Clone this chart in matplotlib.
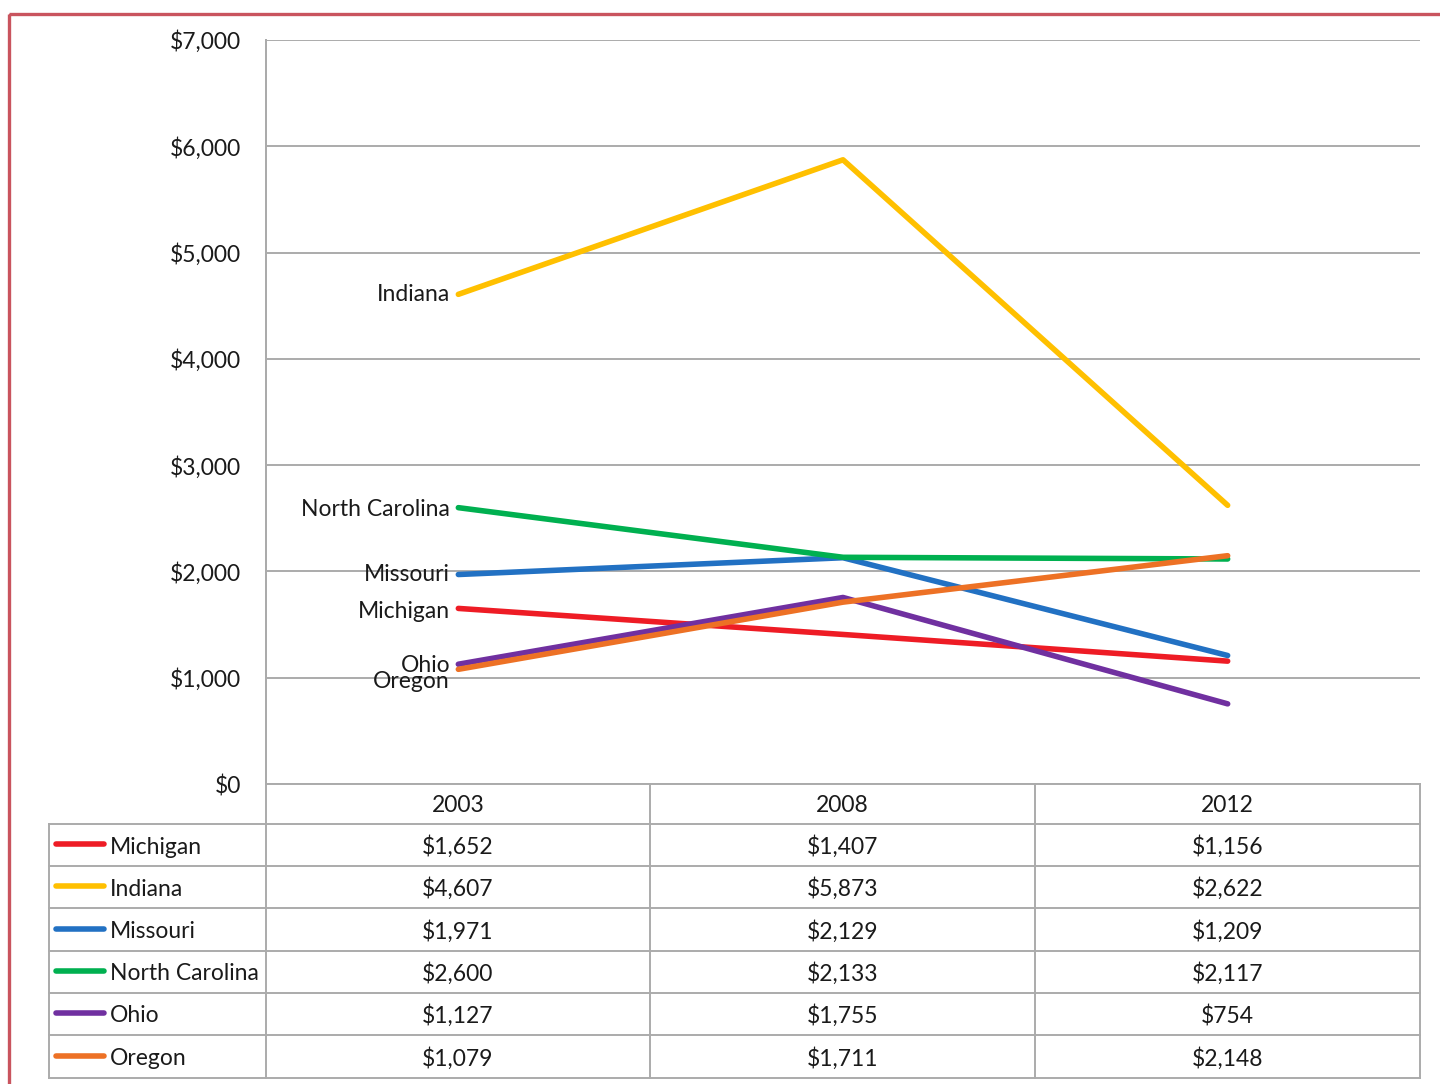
import matplotlib
matplotlib.use("Agg")
import matplotlib.pyplot as plt
from matplotlib.patches import Rectangle

# Spending per state, three survey years
years = ["2003", "2008", "2012"]
states = ["Michigan", "Indiana", "Missouri", "North Carolina", "Ohio", "Oregon"]
michigan = [1652, 1407, 1156]
indiana = [4607, 5873, 2622]
missouri = [1971, 2129, 1209]
north_carolina = [2600, 2133, 2117]
ohio = [1127, 1755, 754]
oregon = [1079, 1711, 2148]
series = [michigan, indiana, missouri, north_carolina, ohio, oregon]

colors = ["#ee1c25", "#ffc000", "#2271c3", "#00b050", "#7030a0", "#ed7125"]
# vertical nudge (pixels) for the inline labels at the first point
label_nudge = [3, 0, 0, 2, 1, 12]

W, H = 1440, 1084
plt.rcParams["font.family"] = ["Lato", "DejaVu Sans"]
FS = 16.5
LW = 4.0
GRID = "#ababab"
INK = "#1a1a1a"

fig = plt.figure(figsize=(W / 100, H / 100), dpi=100)

# pixel-space layer for the frame and the data table
tab = fig.add_axes([0, 0, 1, 1])
tab.set_xlim(0, W)
tab.set_ylim(H, 0)
tab.axis("off")

left, right, top, base = 266, 1420, 40, 784
ax = fig.add_axes([left / W, 1 - base / H, (right - left) / W, (base - top) / H])
ax.set_xlim(0, len(years))
ax.set_ylim(0, 7000)
ax.set_yticks(range(0, 7001, 1000))
ax.set_yticklabels([f"${v:,}" for v in range(0, 7001, 1000)], fontsize=FS, color=INK)
ax.tick_params(axis="y", length=0, pad=18)
ax.set_xticks([])
for s in ["top", "right", "bottom"]:
    ax.spines[s].set_visible(False)
ax.spines["left"].set_color(GRID)
ax.spines["left"].set_linewidth(1.4)
ax.grid(axis="y", color=GRID, linewidth=1.4)
ax.set_axisbelow(True)
ax.patch.set_alpha(0)

xs = [i + 0.5 for i in range(len(years))]
for name, vals, c, nudge in zip(states, series, colors, label_nudge):
    ax.plot(xs, vals, color=c, linewidth=LW, solid_capstyle="round", zorder=3)
    ax.annotate(name, (xs[0], vals[0]), xytext=(-6, -nudge * 0.72),
                textcoords="offset points", ha="right", va="center",
                fontsize=FS, color=INK, zorder=4)

# data table under the plot
col_edges = [left, 650, 1035, right]
row_edges = [base, 824, 866, 908, 951, 993, 1035, 1078]
table_left = 49
lk = dict(color=GRID, linewidth=1.4)

tab.plot([left, right], [row_edges[0]] * 2, **lk)
for y in row_edges[1:]:
    tab.plot([table_left, right], [y, y], **lk)
tab.plot([table_left] * 2, [row_edges[1], row_edges[-1]], **lk)
for x in col_edges:
    tab.plot([x, x], [row_edges[0] if x != left else top, row_edges[-1]], **lk)

col_mid = [(a + b) / 2 for a, b in zip(col_edges[:-1], col_edges[1:])]
for x, yr in zip(col_mid, years):
    tab.text(x, (row_edges[0] + row_edges[1]) / 2 + 2, yr, ha="center", va="center",
             fontsize=FS, color=INK)

for i, (name, vals, c) in enumerate(zip(states, series, colors)):
    yc = (row_edges[i + 1] + row_edges[i + 2]) / 2 + 2
    tab.plot([56, 104], [yc - 3, yc - 3], color=c, linewidth=LW, solid_capstyle="round")
    tab.text(110, yc, name, ha="left", va="center", fontsize=FS, color=INK)
    for x, v in zip(col_mid, vals):
        tab.text(x, yc, f"${v:,}", ha="center", va="center", fontsize=FS, color=INK)

# outer frame
tab.add_patch(Rectangle((9, 14), W, H, fill=False, edgecolor="#c9545e", linewidth=2.4,
                        clip_on=False))

fig.savefig("out.png", dpi=100)
